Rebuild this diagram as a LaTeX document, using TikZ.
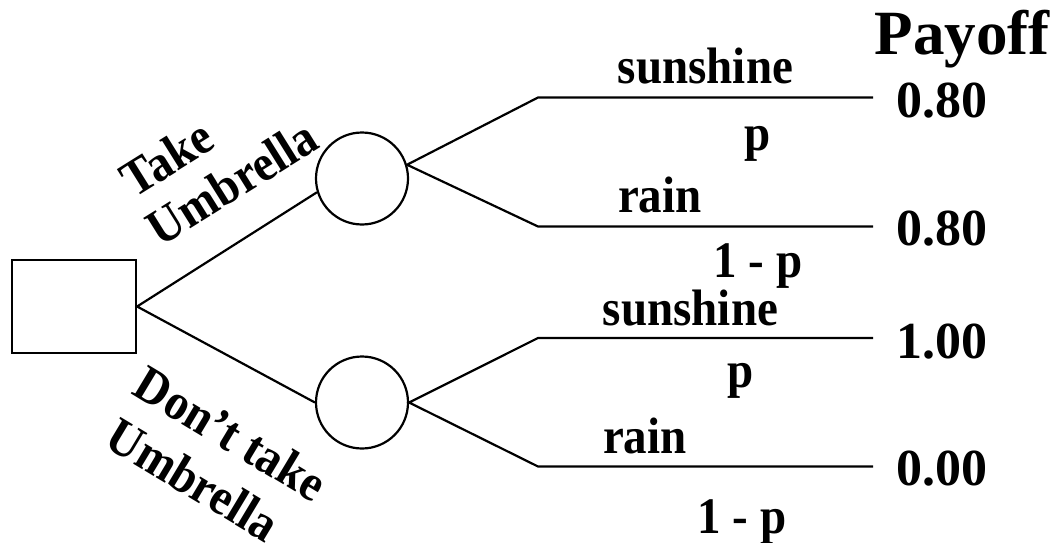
\documentclass[tikz,border=0pt]{standalone}
\usepackage{fontspec}
\setmainfont{Liberation Serif}
\newcommand\vst[1]{\scalebox{1}[1.09]{#1}}
\begin{document}
\begin{tikzpicture}[x=1pt,y=-1pt,
  line width=2.2pt,
  decision/.style={draw,rectangle,minimum width=124pt,minimum height=93pt,inner sep=0pt},
  chance/.style={draw,circle,minimum size=92pt,inner sep=0pt},
  lbl/.style={inner sep=0pt,font=\bfseries\fontsize{47}{50}\selectfont},
  rlbl/.style={inner sep=0pt,anchor=base west,font=\bfseries\fontsize{47}{50}\selectfont},
  num/.style={inner sep=0pt,anchor=base west,font=\bfseries\fontsize{52}{56}\selectfont},
  branch/.style={line width=2.2pt}]
\useasboundingbox (0,0) rectangle (1057,543);
% nodes
\node[decision] (sq) at (74,306.5) {};
\node[chance] (c1) at (362,178.5) {};
\node[chance] (c2) at (362,402.5) {};
% branch end points
\coordinate (a1) at (538,97.5);
\coordinate (b1) at (873,97.5);
\coordinate (a2) at (538,226.5);
\coordinate (b2) at (873,226.5);
\coordinate (a3) at (538,338);
\coordinate (b3) at (873,338);
\coordinate (a4) at (538,466.5);
\coordinate (b4) at (873,466.5);
% connectors
\draw[branch] (c1.197) -- (sq.east) -- (c2.west);
\draw[branch] (b1) -- (a1) -- (c1.17) -- (a2) -- (b2);
\draw[branch] (b3) -- (a3) -- (c2.east) -- (a4) -- (b4);
% decision labels
\node[rlbl,rotate=32] (t1) at (134,199) {\vst{Take}};
\node[rlbl,rotate=32] (t2) at (160,248) {\vst{Umbrella}};
\node[rlbl,rotate=-31] (d1) at (130,393) {\vst{Don’t take}};
\node[rlbl,rotate=-31] (d2) at (102,445) {\vst{Umbrella}};
% chance labels
\node[lbl,anchor=base] (s1) at (705.5,84) {\vst{sunshine}};
\node[lbl,anchor=base] (p1) at (758,150) {\vst{p}};
\node[lbl,anchor=base west] (r1) at (617,212) {\vst{rain}};
\node[lbl,anchor=base] (q1) at (758,277) {\vst{1 - p}};
\node[lbl,anchor=base] (s2) at (690.5,325) {\vst{sunshine}};
\node[lbl,anchor=base] (p2) at (741,387) {\vst{p}};
\node[lbl,anchor=base west] (r2) at (602,453) {\vst{rain}};
\node[lbl,anchor=base] (q2) at (742,533) {\vst{1 - p}};
% payoffs
\node[inner sep=0pt,anchor=base,font=\bfseries\fontsize{63}{66}\selectfont] (pay) at (962,55) {Payoff};
\node[num] (v1) at (895,117) {0.80};
\node[num] (v2) at (895,245) {0.80};
\node[num] (v3) at (895,358) {1.00};
\node[num] (v4) at (895,485) {0.00};
\end{tikzpicture}
\end{document}
